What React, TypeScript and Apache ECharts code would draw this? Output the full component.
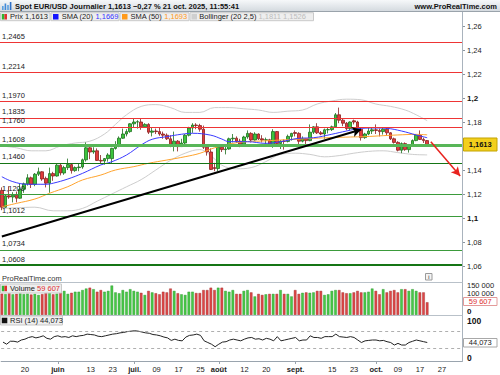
import React, { useEffect, useRef } from 'react';
import * as echarts from 'echarts';

const FONT = '"Liberation Sans", Arial, Helvetica, sans-serif';

// ---------- categories: every weekday from 12 May 2025 to 3 Nov 2025 ----------
const START = '2025-05-12';
const END = '2025-11-03';
function weekdays(a: string, b: string): string[] {
  const out: string[] = [];
  const d = new Date(a + 'T00:00:00Z');
  const e = new Date(b + 'T00:00:00Z');
  while (d <= e) {
    const w = d.getUTCDay();
    if (w !== 0 && w !== 6) out.push(d.toISOString().slice(0, 10));
    d.setUTCDate(d.getUTCDate() + 1);
  }
  return out;
}
const dates = weekdays(START, END);

const X_LABELS: Record<string, string> = {
  '2025-05-20': '20', '2025-06-02': 'juin', '2025-06-13': '13', '2025-06-23': '23',
  '2025-07-01': 'juil.', '2025-07-09': '09', '2025-07-17': '17', '2025-07-25': '25',
  '2025-08-01': 'août', '2025-08-12': '12', '2025-08-20': '20', '2025-09-01': 'sept.',
  '2025-09-15': '15', '2025-09-23': '23', '2025-10-01': 'oct.', '2025-10-09': '09',
  '2025-10-17': '17', '2025-10-27': '27',
};
const MONTH_LABELS = ['juin', 'juil.', 'août', 'sept.', 'oct.'];

// ---------- daily candles [open, close, low, high] ----------
const candles: number[][] = [
  // May
  [1.1230, 1.1090, 1.1065, 1.1255], [1.1090, 1.1185, 1.1085, 1.1195], [1.1185, 1.1175, 1.1160, 1.1265],
  [1.1175, 1.1190, 1.1130, 1.1215], [1.1190, 1.1165, 1.1130, 1.1220], [1.1165, 1.1240, 1.1160, 1.1285],
  [1.1240, 1.1285, 1.1210, 1.1295], [1.1285, 1.1335, 1.1270, 1.1365], [1.1335, 1.1280, 1.1250, 1.1345],
  [1.1280, 1.1365, 1.1265, 1.1375], [1.1365, 1.1385, 1.1350, 1.1420], [1.1385, 1.1325, 1.1310, 1.1390],
  [1.1330, 1.1290, 1.1255, 1.1345], [1.1290, 1.1370, 1.1210, 1.1420], [1.1370, 1.1350, 1.1310, 1.1385],
  // June
  [1.1350, 1.1440, 1.1345, 1.1455], [1.1440, 1.1375, 1.1355, 1.1455], [1.1375, 1.1420, 1.1360, 1.1435],
  [1.1420, 1.1445, 1.1400, 1.1495], [1.1445, 1.1395, 1.1370, 1.1455], [1.1395, 1.1420, 1.1385, 1.1430],
  [1.1420, 1.1425, 1.1390, 1.1450], [1.1425, 1.1485, 1.1410, 1.1495], [1.1485, 1.1585, 1.1470, 1.1630],
  [1.1585, 1.1550, 1.1490, 1.1615], [1.1550, 1.1560, 1.1535, 1.1590], [1.1560, 1.1480, 1.1475, 1.1580],
  [1.1480, 1.1475, 1.1450, 1.1525], [1.1475, 1.1495, 1.1445, 1.1500], [1.1495, 1.1525, 1.1470, 1.1540],
  [1.1495, 1.1580, 1.1450, 1.1585], [1.1580, 1.1610, 1.1570, 1.1640], [1.1610, 1.1665, 1.1590, 1.1680],
  [1.1665, 1.1700, 1.1660, 1.1745], [1.1700, 1.1720, 1.1680, 1.1740], [1.1720, 1.1785, 1.1710, 1.1790],
  // July
  [1.1785, 1.1800, 1.1750, 1.1830], [1.1800, 1.1802, 1.1745, 1.1815], [1.1800, 1.1760, 1.1735, 1.1830],
  [1.1760, 1.1780, 1.1755, 1.1790], [1.1780, 1.1715, 1.1700, 1.1790], [1.1715, 1.1725, 1.1680, 1.1750],
  [1.1725, 1.1720, 1.1700, 1.1745], [1.1720, 1.1700, 1.1685, 1.1750], [1.1700, 1.1690, 1.1660, 1.1720],
  [1.1690, 1.1660, 1.1650, 1.1705], [1.1660, 1.1600, 1.1590, 1.1690], [1.1600, 1.1640, 1.1555, 1.1720],
  [1.1640, 1.1595, 1.1555, 1.1650], [1.1595, 1.1625, 1.1595, 1.1660], [1.1625, 1.1690, 1.1615, 1.1700],
  [1.1690, 1.1750, 1.1680, 1.1760], [1.1750, 1.1775, 1.1710, 1.1790], [1.1775, 1.1770, 1.1740, 1.1790],
  [1.1770, 1.1740, 1.1720, 1.1785], [1.1740, 1.1590, 1.1575, 1.1770], [1.1590, 1.1550, 1.1520, 1.1600],
  [1.1550, 1.1405, 1.1400, 1.1580], [1.1420, 1.1412, 1.1390, 1.1460],
  // August
  [1.1412, 1.1590, 1.1390, 1.1600], [1.1590, 1.1570, 1.1550, 1.1600], [1.1570, 1.1575, 1.1530, 1.1595],
  [1.1575, 1.1660, 1.1570, 1.1670], [1.1660, 1.1665, 1.1630, 1.1700], [1.1665, 1.1640, 1.1625, 1.1680],
  [1.1640, 1.1615, 1.1590, 1.1660], [1.1615, 1.1675, 1.1600, 1.1685], [1.1675, 1.1705, 1.1660, 1.1730],
  [1.1705, 1.1650, 1.1630, 1.1715], [1.1650, 1.1700, 1.1645, 1.1715], [1.1700, 1.1660, 1.1650, 1.1705],
  [1.1660, 1.1650, 1.1630, 1.1690], [1.1650, 1.1652, 1.1615, 1.1670], [1.1652, 1.1610, 1.1605, 1.1660],
  [1.1610, 1.1720, 1.1585, 1.1740], [1.1720, 1.1620, 1.1615, 1.1725], [1.1620, 1.1640, 1.1575, 1.1650],
  [1.1640, 1.1638, 1.1570, 1.1655], [1.1638, 1.1680, 1.1630, 1.1695], [1.1680, 1.1705, 1.1645, 1.1710],
  // September
  [1.1712, 1.1705, 1.1680, 1.1730], [1.1705, 1.1640, 1.1610, 1.1715], [1.1640, 1.1660, 1.1630, 1.1680],
  [1.1660, 1.1645, 1.1610, 1.1665], [1.1645, 1.1715, 1.1640, 1.1780], [1.1715, 1.1760, 1.1700, 1.1765],
  [1.1760, 1.1710, 1.1700, 1.1790], [1.1710, 1.1700, 1.1690, 1.1725], [1.1700, 1.1735, 1.1660, 1.1745],
  [1.1735, 1.1737, 1.1705, 1.1755], [1.1737, 1.1760, 1.1725, 1.1770], [1.1760, 1.1860, 1.1755, 1.1875],
  [1.1860, 1.1815, 1.1790, 1.1920], [1.1815, 1.1790, 1.1765, 1.1830], [1.1790, 1.1745, 1.1730, 1.1800],
  [1.1745, 1.1800, 1.1730, 1.1805], [1.1810, 1.1800, 1.1780, 1.1820], [1.1800, 1.1740, 1.1730, 1.1810],
  [1.1740, 1.1670, 1.1645, 1.1745], [1.1670, 1.1700, 1.1660, 1.1710], [1.1700, 1.1725, 1.1690, 1.1750],
  [1.1725, 1.1735, 1.1700, 1.1755],
  // October
  [1.1735, 1.1730, 1.1700, 1.1780], [1.1730, 1.1720, 1.1680, 1.1745], [1.1720, 1.1740, 1.1695, 1.1750],
  [1.1740, 1.1710, 1.1690, 1.1750], [1.1710, 1.1660, 1.1650, 1.1715], [1.1660, 1.1630, 1.1620, 1.1670],
  [1.1630, 1.1565, 1.1555, 1.1640], [1.1565, 1.1620, 1.1540, 1.1630], [1.1620, 1.1570, 1.1560, 1.1630],
  [1.1570, 1.1605, 1.1545, 1.1615], [1.1605, 1.1645, 1.1600, 1.1655], [1.1645, 1.1690, 1.1640, 1.1700],
  [1.1690, 1.1655, 1.1650, 1.1730], [1.1655, 1.1645, 1.1625, 1.1670], [1.1645, 1.1613, 1.1605, 1.1650],
];

// ---------- daily volume ----------
const volumes: number[] = [
  100000, 98000, 102000, 97000, 99000, 101000, 98000, 100000, 96000, 99000, 94000, 98000, 103000, 106000, 97000,
  100000, 104000, 113000, 99000, 104000, 109000, 109000, 117000, 124000, 128000, 121000, 109000, 117000, 109000,
  113000, 138000, 106000, 102000, 117000, 109000, 121000,
  113000, 109000, 104000, 94000, 113000, 106000, 102000, 97000, 109000, 106000, 124000, 113000, 102000, 97000,
  94000, 109000, 109000, 103000, 103000, 117000, 117000, 128000, 117000,
  128000, 128000, 113000, 109000, 117000, 99000, 99000, 113000, 117000, 106000, 87000, 99000, 94000, 97000,
  99000, 99000, 99000, 117000, 99000, 99000, 87000,
  117000, 99000, 104000, 106000, 104000, 106000, 113000, 113000, 94000, 97000, 113000, 117000, 117000, 106000,
  102000, 102000, 106000, 113000, 106000, 106000, 109000, 124000,
  113000, 97000, 121000, 106000, 113000, 117000, 106000, 121000, 121000, 113000, 121000, 113000, 106000, 106000, 59607,
];

// ---------- RSI (14) ----------
const rsi: number[] = [
  45, 40, 47, 47, 45, 50, 52, 56, 58, 55, 57, 60, 54, 52, 58,
  60, 57, 58, 56, 60, 58, 60, 61, 64, 63, 62, 59, 58, 60, 62, 64, 65, 67, 68, 70, 71,
  72, 71, 69, 67, 66, 63, 62, 60, 57, 55, 49, 52, 49, 48, 57, 61, 62, 64, 61, 48, 44, 40, 34,
  40, 45, 46, 50, 52, 50, 48, 52, 55, 56, 52, 53, 50, 54, 52, 48, 58, 48, 50, 52, 54,
  56, 48, 50, 50, 60, 56, 56, 54, 58, 58, 58, 64, 58, 57, 56, 58, 56, 50, 44, 48, 49, 50,
  50, 48, 49, 46, 44, 38, 42, 38, 38, 44, 47, 50, 48, 46, 44.073,
];

// ---------- indicators: [category index, value] ----------
const sma20: number[][] = [
  [0, 1.1344], [3, 1.1303], [7, 1.1281], [12, 1.1281], [14, 1.1290], [18, 1.1325], [22, 1.1372], [27, 1.1442],
  [30, 1.1469], [34, 1.1525], [38, 1.1608], [41, 1.1656], [45, 1.1678], [49, 1.1698], [52, 1.1706], [57, 1.1690],
  [60, 1.1658], [62, 1.1636], [67, 1.1636], [72, 1.1622], [76, 1.1636], [81, 1.1664], [85, 1.1669], [90, 1.1698],
  [94, 1.1725], [98, 1.1747], [102, 1.1750], [105, 1.1747], [109, 1.1725], [113, 1.1692], [116, 1.1669],
];
const sma50: number[][] = [
  [0, 1.1094], [4, 1.1122], [9, 1.1158], [13, 1.1206], [18, 1.1261], [22, 1.1317], [27, 1.1358], [31, 1.1400],
  [36, 1.1428], [40, 1.1456], [45, 1.1483], [50, 1.1511], [54, 1.1539], [58, 1.1585], [63, 1.1622], [67, 1.1636],
  [72, 1.1643], [76, 1.1650], [81, 1.1657], [85, 1.1664], [90, 1.1670], [95, 1.1675], [99, 1.1678], [104, 1.1686],
  [108, 1.1692], [113, 1.1697], [116, 1.1693],
];
const bbUpper: number[][] = [
  [0, 1.1600], [4, 1.1585], [8, 1.1560], [12, 1.1560], [16, 1.1600], [20, 1.1625], [24, 1.1640], [28, 1.1700],
  [31, 1.1780], [34, 1.1860], [38, 1.1930], [42, 1.1945], [46, 1.1920], [50, 1.1880], [54, 1.1880], [58, 1.1920],
  [62, 1.1920], [66, 1.1910], [70, 1.1900], [74, 1.1880], [78, 1.1890], [82, 1.1900], [86, 1.1950], [90, 1.1975],
  [94, 1.1990], [98, 1.1985], [102, 1.1950], [106, 1.1930], [110, 1.1900], [113, 1.1860], [116, 1.1811],
];
const bbLower: number[][] = [
  [0, 1.1080], [4, 1.1085], [9, 1.1090], [14, 1.1060], [18, 1.1060], [22, 1.1080], [26, 1.1140], [30, 1.1200],
  [34, 1.1260], [38, 1.1320], [42, 1.1400], [46, 1.1480], [50, 1.1540], [54, 1.1570], [57, 1.1520], [60, 1.1440],
  [64, 1.1410], [68, 1.1420], [72, 1.1470], [76, 1.1530], [80, 1.1540], [84, 1.1530], [88, 1.1510], [92, 1.1520],
  [96, 1.1540], [100, 1.1555], [104, 1.1560], [108, 1.1545], [112, 1.1530], [116, 1.1526],
];

// ---------- horizontal levels ----------
const levels: number[] = [1.2465, 1.2214, 1.1970, 1.1835, 1.1760, 1.1608, 1.1460, 1.1200, 1.1012, 1.0734, 1.0608];
const levelLabels: string[] = ['1,2465', '1,2214', '1,1970', '1,1835', '1,1760', '1,1608', '1,1460', '1,1200', '1,1012', '1,0734', '1,0608'];

// trend lines: [category index, price]
const supportLine: number[][] = [[0, 1.0846], [98, 1.1738]];
const projection: number[][] = [[117, 1.1636], [125, 1.1350]];

const GREEN = '#3cc43c';
const RED = '#e03b3b';

function levelStyle(i: number) {
  if (i <= 4) return { color: '#ee3535', width: 1 };
  if (i === 5) return { color: '#58b658', width: 3 };
  if (i === 6 || i === 10) return { color: '#157515', width: i === 10 ? 2 : 1.2 };
  return { color: '#3b9b3b', width: 1 };
}

function fmtPrice(v: number) {
  const s = parseFloat(v.toFixed(2)).toString().replace('.', ',');
  if (s === '1,16') return ''; // hidden behind the current-price box
  return s === '1,2' || s === '1,1' ? `{b|${s}}` : s;
}

export default function App() {
  const ref = useRef<HTMLDivElement>(null);

  useEffect(() => {
    document.body.style.margin = '0';
    if (!ref.current) return;
    const chart = echarts.init(ref.current, null, { renderer: 'svg' });

    const toLine = (arr: number[][]) => arr.map(([i, v]) => [dates[i], v]);
    const txt = (x: number, y: number, text: string, extra: any = {}) => ({
      type: 'text', x, y, silent: true, z: 100,
      style: { text, font: `7.5px ${FONT}`, fill: '#222', align: 'left', verticalAlign: 'middle', ...extra },
    });
    const rect = (x: number, y: number, w: number, h: number, fill: any, stroke: any = null, z = 90) => ({
      type: 'rect', silent: true, z, shape: { x, y, width: w, height: h }, style: { fill, stroke, lineWidth: 1 },
    });

    const legendRich = (cols: Record<string, string>) => {
      const r: any = {};
      Object.keys(cols).forEach((k) => { r[k] = { fill: cols[k], fontSize: 7.5, fontFamily: FONT }; });
      return r;
    };

    const option: any = {
      animation: false,
      backgroundColor: '#ffffff',
      textStyle: { fontFamily: FONT },
      grid: [
        { left: 0, top: 26, width: 462, height: 240 },
        { left: 0, top: 283, width: 462, height: 32 },
        { left: 0, top: 319, width: 462, height: 42 },
      ],
      xAxis: [0, 1, 2].map((g) => ({
        type: 'category', gridIndex: g, data: dates, boundaryGap: true,
        show: g === 2,
        axisLine: { show: g === 2, lineStyle: { color: '#9aa4ae', width: 1 } },
        axisTick: {
          show: g === 2, alignWithLabel: true, length: 3, lineStyle: { color: '#9aa4ae' },
          interval: (_i: number, v: string) => MONTH_LABELS.indexOf(X_LABELS[v]) >= 0,
        },
        axisLabel: {
          show: g === 2, interval: 0, margin: 4, fontSize: 7.5, color: '#222', fontFamily: FONT,
          formatter: (v: string) => {
            const t = X_LABELS[v];
            if (!t) return '';
            return MONTH_LABELS.indexOf(t) >= 0 ? `{b|${t}}` : t;
          },
          rich: { b: { fontWeight: 'bold', fontSize: 7.5, color: '#222', fontFamily: FONT } },
        },
        splitLine: { show: false },
      })),
      yAxis: [
        {
          type: 'value', gridIndex: 0, position: 'right', min: 1.06, max: 1.26, interval: 0.02,
          axisLine: { show: false }, splitLine: { show: false },
          axisTick: { show: true, length: 3, lineStyle: { color: '#8a949e' } },
          axisLabel: {
            margin: 5, fontSize: 7.5, color: '#222', fontFamily: FONT, formatter: fmtPrice,
            rich: { b: { fontWeight: 'bold', fontSize: 8, color: '#111', fontFamily: FONT } },
          },
        },
        {
          type: 'value', gridIndex: 1, position: 'right', min: 0, max: 150000, interval: 50000,
          axisLine: { show: false }, splitLine: { show: false },
          axisTick: { show: false },
          axisLabel: {
            margin: 5, fontSize: 7.5, color: '#222', fontFamily: FONT,
            formatter: (v: number) => {
              if (Math.abs(v - 150000) < 1) return '{t|150 000}';
              if (Math.abs(v - 100000) < 1) return '{m|100 000}';
              if (v === 0) return '{z|0}';
              return '';
            },
            rich: {
              t: { fontSize: 7.5, lineHeight: 8, color: '#222', padding: [4, 0, 0, 0], fontFamily: FONT },
              m: { fontSize: 7.5, lineHeight: 8, color: '#222', fontFamily: FONT },
              z: { fontSize: 8, lineHeight: 8, fontWeight: 'bold', color: '#111', padding: [0, 0, 7, 0], fontFamily: FONT },
            },
          },
        },
        {
          type: 'value', gridIndex: 2, position: 'right', min: 0, max: 100, interval: 50,
          axisLine: { show: false }, splitLine: { show: false },
          axisTick: { show: false },
          axisLabel: {
            margin: 5, fontSize: 9, color: '#111', fontFamily: FONT,
            formatter: (v: number) => (v === 100 ? '{h|100}' : v === 0 ? '{z|0}' : ''),
            rich: {
              h: { fontSize: 8.5, lineHeight: 9, fontWeight: 'bold', color: '#111', padding: [4, 0, 0, 0], fontFamily: FONT },
              z: { fontSize: 8.5, lineHeight: 9, fontWeight: 'bold', color: '#111', padding: [0, 0, 6, 0], fontFamily: FONT },
            },
          },
        },
      ],
      series: [
        {
          name: 'levels', type: 'line', xAxisIndex: 0, yAxisIndex: 0, data: [], z: 1, silent: true,
          markLine: {
            silent: true, symbol: ['none', 'none'], animation: false, precision: 4,
            data: levels.map((v, i) => ({
              yAxis: v,
              lineStyle: { type: 'solid', ...levelStyle(i) },
              label: {
                show: true, position: 'insideStartTop', formatter: levelLabels[i], color: '#222',
                fontSize: 7.5, fontFamily: FONT, distance: [2, 2],
              },
            })),
          },
        },
        {
          name: 'BB haut', type: 'line', xAxisIndex: 0, yAxisIndex: 0, data: toLine(bbUpper), smooth: 0.4,
          symbol: 'none', lineStyle: { color: '#cdcdcd', width: 1 }, z: 2, silent: true,
        },
        {
          name: 'BB bas', type: 'line', xAxisIndex: 0, yAxisIndex: 0, data: toLine(bbLower), smooth: 0.4,
          symbol: 'none', lineStyle: { color: '#cdcdcd', width: 1 }, z: 2, silent: true,
        },
        {
          name: 'Prix', type: 'candlestick', xAxisIndex: 0, yAxisIndex: 0, data: candles, barWidth: 3, z: 3,
          itemStyle: { color: GREEN, color0: RED, borderColor: '#1d6e1d', borderColor0: '#8a1e1e', borderWidth: 0.8 },
        },
        {
          name: 'SMA (50)', type: 'line', xAxisIndex: 0, yAxisIndex: 0, data: toLine(sma50), smooth: 0.4,
          symbol: 'none', lineStyle: { color: '#ffa42e', width: 1 }, z: 4, silent: true,
        },
        {
          name: 'SMA (20)', type: 'line', xAxisIndex: 0, yAxisIndex: 0, data: toLine(sma20), smooth: 0.4,
          symbol: 'none', lineStyle: { color: '#3a3aff', width: 1 }, z: 4, silent: true,
        },
        {
          name: 'trend', type: 'line', xAxisIndex: 0, yAxisIndex: 0, data: [], z: 5, silent: true,
          markLine: {
            silent: true, animation: false, precision: 4, label: { show: false },
            data: [
              [
                { coord: [dates[supportLine[0][0]], supportLine[0][1]], symbol: 'none' },
                { coord: [dates[supportLine[1][0]], supportLine[1][1]], symbol: 'arrow', symbolSize: [8, 9] },
              ],
              [
                { coord: [dates[projection[0][0]], projection[0][1]], symbol: 'none', lineStyle: { color: '#e8231e', width: 1.5, type: 'solid' } },
                { coord: [dates[projection[1][0]], projection[1][1]], symbol: 'arrow', symbolSize: [7, 9], itemStyle: { color: '#e8231e' } },
              ],
            ],
            lineStyle: { color: '#000', width: 2, type: 'solid' },
          },
        },
        {
          name: 'Volume', type: 'bar', xAxisIndex: 1, yAxisIndex: 1, barWidth: 2.6, z: 3,
          data: volumes.map((v, i) => {
            const up = candles[i] && candles[i][1] >= candles[i][0];
            return {
              value: v,
              itemStyle: { color: up ? '#46c946' : '#dd4646', borderColor: up ? '#2a902a' : '#9a2a2a', borderWidth: 0.4 },
            };
          }),
        },
        {
          name: 'RSI', type: 'line', xAxisIndex: 2, yAxisIndex: 2, data: rsi, symbol: 'none',
          lineStyle: { color: '#222', width: 1 }, z: 4, silent: true,
          markLine: {
            silent: true, symbol: ['none', 'none'], animation: false, label: { show: false },
            lineStyle: { color: '#9a9a9a', width: 0.8, type: [3, 3] },
            data: [{ yAxis: 70 }, { yAxis: 30 }],
          },
        },
      ],
      graphic: [
        // header bar
        rect(0, 0, 500, 11.5, new echarts.graphic.LinearGradient(0, 0, 0, 1, [
          { offset: 0, color: '#f6f8fa' }, { offset: 1, color: '#d3d9de' },
        ]), null, 80),
        { type: 'line', silent: true, z: 81, shape: { x1: 0, y1: 11.5, x2: 500, y2: 11.5 }, style: { stroke: '#9aa3ab', lineWidth: 1 } },
        rect(2, 6, 1.6, 4, '#5aa0e0', null, 82),
        rect(4.6, 3.5, 1.6, 6.5, '#3f88d8', null, 82),
        rect(7.2, 5, 1.6, 5, '#5aa0e0', null, 82),
        rect(9.8, 2, 1.6, 8, '#2f70c8', null, 82),
        txt(15, 6, 'Spot EUR/USD Journalier 1,1613 \u22120,27 % 21 oct. 2025, 11:55:41', { font: `bold 7.5px ${FONT}`, fill: '#111' }),
        txt(497, 6, 'www.ProRealTime.com', { font: `bold 7.5px ${FONT}`, fill: '#111', align: 'right' }),

        // legend boxes
        rect(0.5, 12.7, 49.5, 8, '#eeeeee', '#c9c9c9'),
        rect(1.8, 14, 2.6, 5.5, '#2fb52f', null, 91),
        rect(4.4, 14, 2.6, 5.5, '#e03030', null, 91),
        txt(10, 16.8, 'Prix 1,1613'),
        rect(51, 12.7, 68, 8, '#eeeeee', '#c9c9c9'),
        rect(53, 14, 5.5, 5.5, '#1414ff', null, 91),
        { type: 'text', x: 61.7, y: 16.8, z: 100, silent: true, style: { text: '{k|SMA (20) }{v|1,1669}', verticalAlign: 'middle', align: 'left', rich: legendRich({ k: '#222', v: '#3333ff' }) } },
        rect(120, 12.7, 69, 8, '#eeeeee', '#c9c9c9'),
        rect(122, 14, 5.5, 5.5, '#ff9a1a', null, 91),
        { type: 'text', x: 130.5, y: 16.8, z: 100, silent: true, style: { text: '{k|SMA (50) }{v|1,1693}', verticalAlign: 'middle', align: 'left', rich: legendRich({ k: '#222', v: '#ff9a1a' }) } },
        rect(190, 12.7, 123.5, 8, '#eeeeee', '#c9c9c9'),
        rect(191.5, 14, 5.5, 5.5, '#cfcfcf', null, 91),
        { type: 'text', x: 199.3, y: 16.8, z: 100, silent: true, style: { text: '{k|Bollinger (20 2,5) }{v|1,1811 1,1526}', verticalAlign: 'middle', align: 'left', rich: legendRich({ k: '#222', v: '#bdbdbd' }) } },

        // right axis line and panel separators
        { type: 'line', silent: true, z: 60, shape: { x1: 462.5, y1: 11.5, x2: 462.5, y2: 362 }, style: { stroke: '#a9b3bd', lineWidth: 1 } },
        { type: 'line', silent: true, z: 60, shape: { x1: 0, y1: 282.5, x2: 462.5, y2: 282.5 }, style: { stroke: '#b9c1c9', lineWidth: 1 } },
        { type: 'line', silent: true, z: 60, shape: { x1: 0, y1: 315.5, x2: 462.5, y2: 315.5 }, style: { stroke: '#b9c1c9', lineWidth: 1 } },

        // bottom panel texts
        txt(2, 278.5, 'ProRealTime.com', { fill: '#333' }),
        rect(425.5, 273.5, 6.5, 6.5, '#f4f4f4', '#9a9a9a'),
        txt(428.8, 277, 'i', { align: 'center', fill: '#777', font: `bold 6px ${FONT}` }),
        rect(0.5, 284, 61, 9, '#eeeeee', '#c9c9c9'),
        rect(1.8, 285.7, 2.6, 5.5, '#2fb52f', null, 91),
        rect(4.4, 285.7, 2.6, 5.5, '#e03030', null, 91),
        { type: 'text', x: 10, y: 288.7, z: 100, silent: true, style: { text: '{k|Volume }{v|59 607}', verticalAlign: 'middle', align: 'left', rich: legendRich({ k: '#222', v: '#e03030' }) } },
        rect(0.5, 316, 62, 9, '#eeeeee', '#c9c9c9'),
        rect(1.8, 317.7, 5.5, 5.5, '#111111', null, 91),
        txt(10, 320.6, 'RSI (14) 44,073'),

        // right value boxes
        rect(463.5, 138, 33.5, 13, '#f3cf1c', '#c3a300', 95),
        txt(480.2, 144.6, '1,1613', { align: 'center', font: `bold 7.5px ${FONT}`, fill: '#111' }),
        rect(463.5, 297.5, 33.5, 8, '#ffffff', '#e39a9a', 95),
        txt(480.2, 301.6, '59 607', { align: 'center', fill: '#e03030' }),
        rect(463.5, 338.5, 33.5, 8.5, '#ffffff', '#a8a8a8', 95),
        txt(480.2, 342.8, '44,073', { align: 'center', fill: '#222' }),
      ],
    };

    chart.setOption(option);
    return () => chart.dispose();
  }, []);

  return <div ref={ref} style={{ width: 500, height: 375 }} />;
}
